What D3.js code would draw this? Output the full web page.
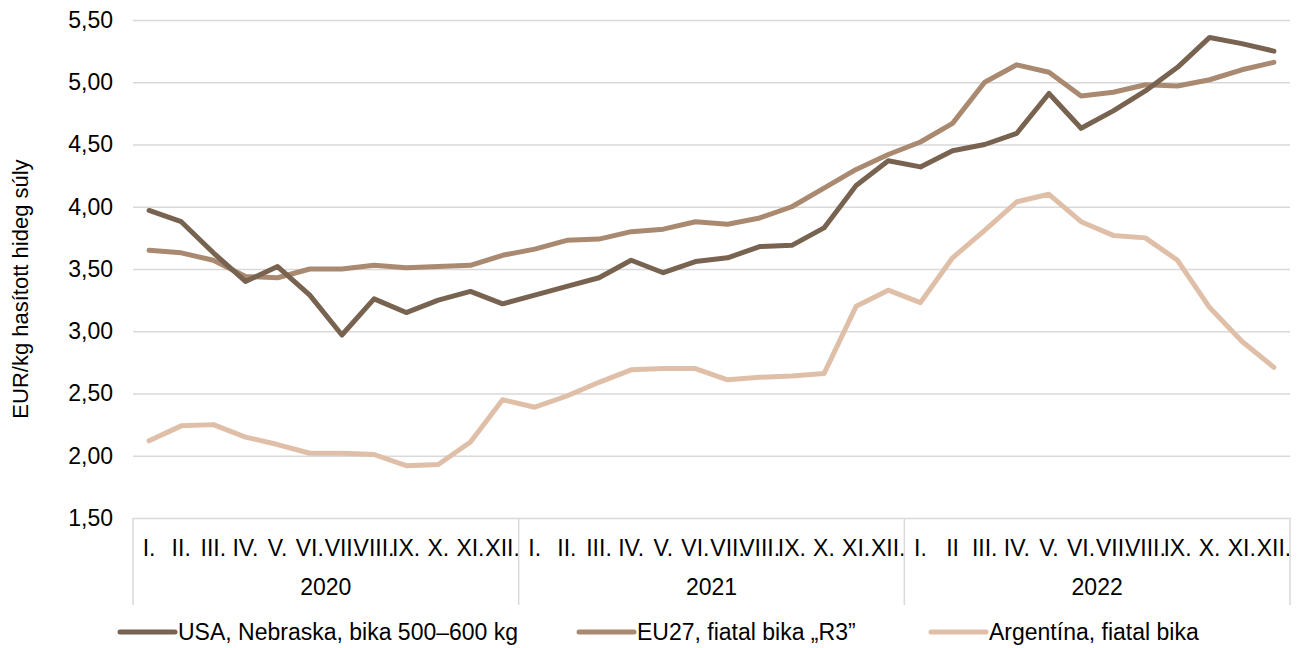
<!DOCTYPE html>
<html>
<head>
<meta charset="utf-8">
<script src="https://cdn.jsdelivr.net/npm/d3@7"></script>
<style>
  body { margin: 0; background: #fff; }
  svg { display: block; font-family: Arial, "Liberation Sans", sans-serif; }
</style>
</head>
<body>
<div id="chart"></div>
<script>
// category labels
const years = ["2020", "2021", "2022"];
const monthLabels = [
  "I.", "II.", "III.", "IV.", "V.", "VI.", "VII.", "VIII.", "IX.", "X.", "XI.", "XII.",
  "I.", "II.", "III.", "IV.", "V.", "VI.", "VII.", "VIII.", "IX.", "X.", "XI.", "XII.",
  "I.", "II", "III.", "IV.", "V.", "VI.", "VII.", "VIII.", "IX.", "X.", "XI.", "XII."
];
const yTicks = [1.5, 2, 2.5, 3, 3.5, 4, 4.5, 5, 5.5];

// series values (EUR/kg)
const usa = [
  3.97, 3.88, 3.63, 3.40, 3.52, 3.29, 2.97, 3.26, 3.15, 3.25, 3.32, 3.22,
  3.29, 3.36, 3.43, 3.57, 3.47, 3.56, 3.59, 3.68, 3.69, 3.83, 4.17, 4.37,
  4.32, 4.45, 4.50, 4.59, 4.91, 4.63, 4.77, 4.93, 5.12, 5.36, 5.31, 5.25
];
const eu = [
  3.65, 3.63, 3.57, 3.44, 3.43, 3.50, 3.50, 3.53, 3.51, 3.52, 3.53, 3.61,
  3.66, 3.73, 3.74, 3.80, 3.82, 3.88, 3.86, 3.91, 4.00, 4.15, 4.30, 4.42,
  4.52, 4.67, 5.00, 5.14, 5.08, 4.89, 4.92, 4.98, 4.97, 5.02, 5.10, 5.16
];
const arg = [
  2.12, 2.24, 2.25, 2.15, 2.09, 2.02, 2.02, 2.01, 1.92, 1.93, 2.11, 2.45,
  2.39, 2.48, 2.59, 2.69, 2.70, 2.70, 2.61, 2.63, 2.64, 2.66, 3.20, 3.33,
  3.23, 3.59, 3.81, 4.04, 4.10, 3.88, 3.77, 3.75, 3.57, 3.19, 2.92, 2.71
];
const seriesNames = ["USA, Nebraska, bika 500–600 kg", "EU27, fiatal bika „R3”", "Argentína, fiatal bika"];
const seriesColors = ["#786350", "#a98a70", "#dfbfa8"];

const width = 1301, height = 648;
const margin = { top: 20, right: 11, bottom: 130, left: 133 };
const innerW = width - margin.left - margin.right;
const innerH = height - margin.top - margin.bottom;
const fontSize = 23;

const svg = d3.select("#chart").append("svg")
  .attr("width", width)
  .attr("height", height);

const g = svg.append("g")
  .attr("transform", "translate(" + [margin.left, margin.top] + ")");

// scales
const x = d3.scaleBand()
  .domain(d3.range(monthLabels.length))
  .range([0, innerW])
  .padding(0);

const y = d3.scaleLinear()
  .domain([1.5, 5.5])
  .range([innerH, 0]);

const fmt = d => d3.format(".2f")(d).replace(".", ",");

// gridlines + y labels
const yAxis = d3.axisLeft(y)
  .tickValues(yTicks)
  .tickSize(-innerW)
  .tickPadding(20)
  .tickFormat(fmt);

const yg = g.append("g").call(yAxis);
yg.select(".domain").remove();
yg.selectAll(".tick line").attr("stroke", "#d9d9d9").attr("stroke-width", 1.5);
yg.selectAll(".tick text")
  .attr("fill", "#000")
  .style("font-size", fontSize + "px")
  .style("font-family", "Arial, 'Liberation Sans', sans-serif");

// y axis title
svg.append("text")
  .attr("transform", "translate(28," + (margin.top + innerH / 2 + 20) + ") rotate(-90)")
  .attr("text-anchor", "middle")
  .style("font-size", "22px")
  .text("EUR/kg hasított hideg súly");

// category axis (months + years)
const cat = g.append("g").attr("transform", "translate(0," + innerH + ")");

cat.selectAll("text.month")
  .data(monthLabels)
  .join("text")
  .attr("class", "month")
  .attr("x", (d, i) => x(i) + x.bandwidth() / 2)
  .attr("y", 38)
  .attr("text-anchor", "middle")
  .style("font-size", fontSize + "px")
  .text(d => d);

cat.selectAll("text.year")
  .data(years)
  .join("text")
  .attr("class", "year")
  .attr("x", (d, i) => x(i * 12) + x.bandwidth() * 6)
  .attr("y", 77)
  .attr("text-anchor", "middle")
  .style("font-size", fontSize + "px")
  .text(d => d);

// group separators
const seps = d3.range(years.length + 1).map(i => i < years.length ? x(i * 12) : innerW);
cat.selectAll("line.sep")
  .data(seps)
  .join("line")
  .attr("class", "sep")
  .attr("x1", d => d).attr("x2", d => d)
  .attr("y1", 0).attr("y2", 87)
  .attr("stroke", "#d9d9d9")
  .attr("stroke-width", 1.5);

// lines
const line = d3.line()
  .x((d, i) => x(i) + x.bandwidth() / 2)
  .y(d => y(d));

const allSeries = [usa, eu, arg];

// draw Argentina first, then EU, then USA on top
[2, 1, 0].forEach(k => {
  g.append("path")
    .datum(allSeries[k])
    .attr("fill", "none")
    .attr("stroke", seriesColors[k])
    .attr("stroke-width", 5)
    .attr("stroke-linejoin", "round")
    .attr("stroke-linecap", "round")
    .attr("d", line);
});

// legend
const legendX = [120, 579, 931];
const legendY = 632;
const legend = svg.append("g");
seriesNames.forEach((name, k) => {
  legend.append("line")
    .attr("x1", legendX[k]).attr("x2", legendX[k] + 55)
    .attr("y1", legendY).attr("y2", legendY)
    .attr("stroke", seriesColors[k])
    .attr("stroke-width", 5)
    .attr("stroke-linecap", "round");
  legend.append("text")
    .attr("x", legendX[k] + 58)
    .attr("y", legendY)
    .attr("dy", "0.35em")
    .style("font-size", fontSize + "px")
    .text(name);
});
</script>
</body>
</html>
